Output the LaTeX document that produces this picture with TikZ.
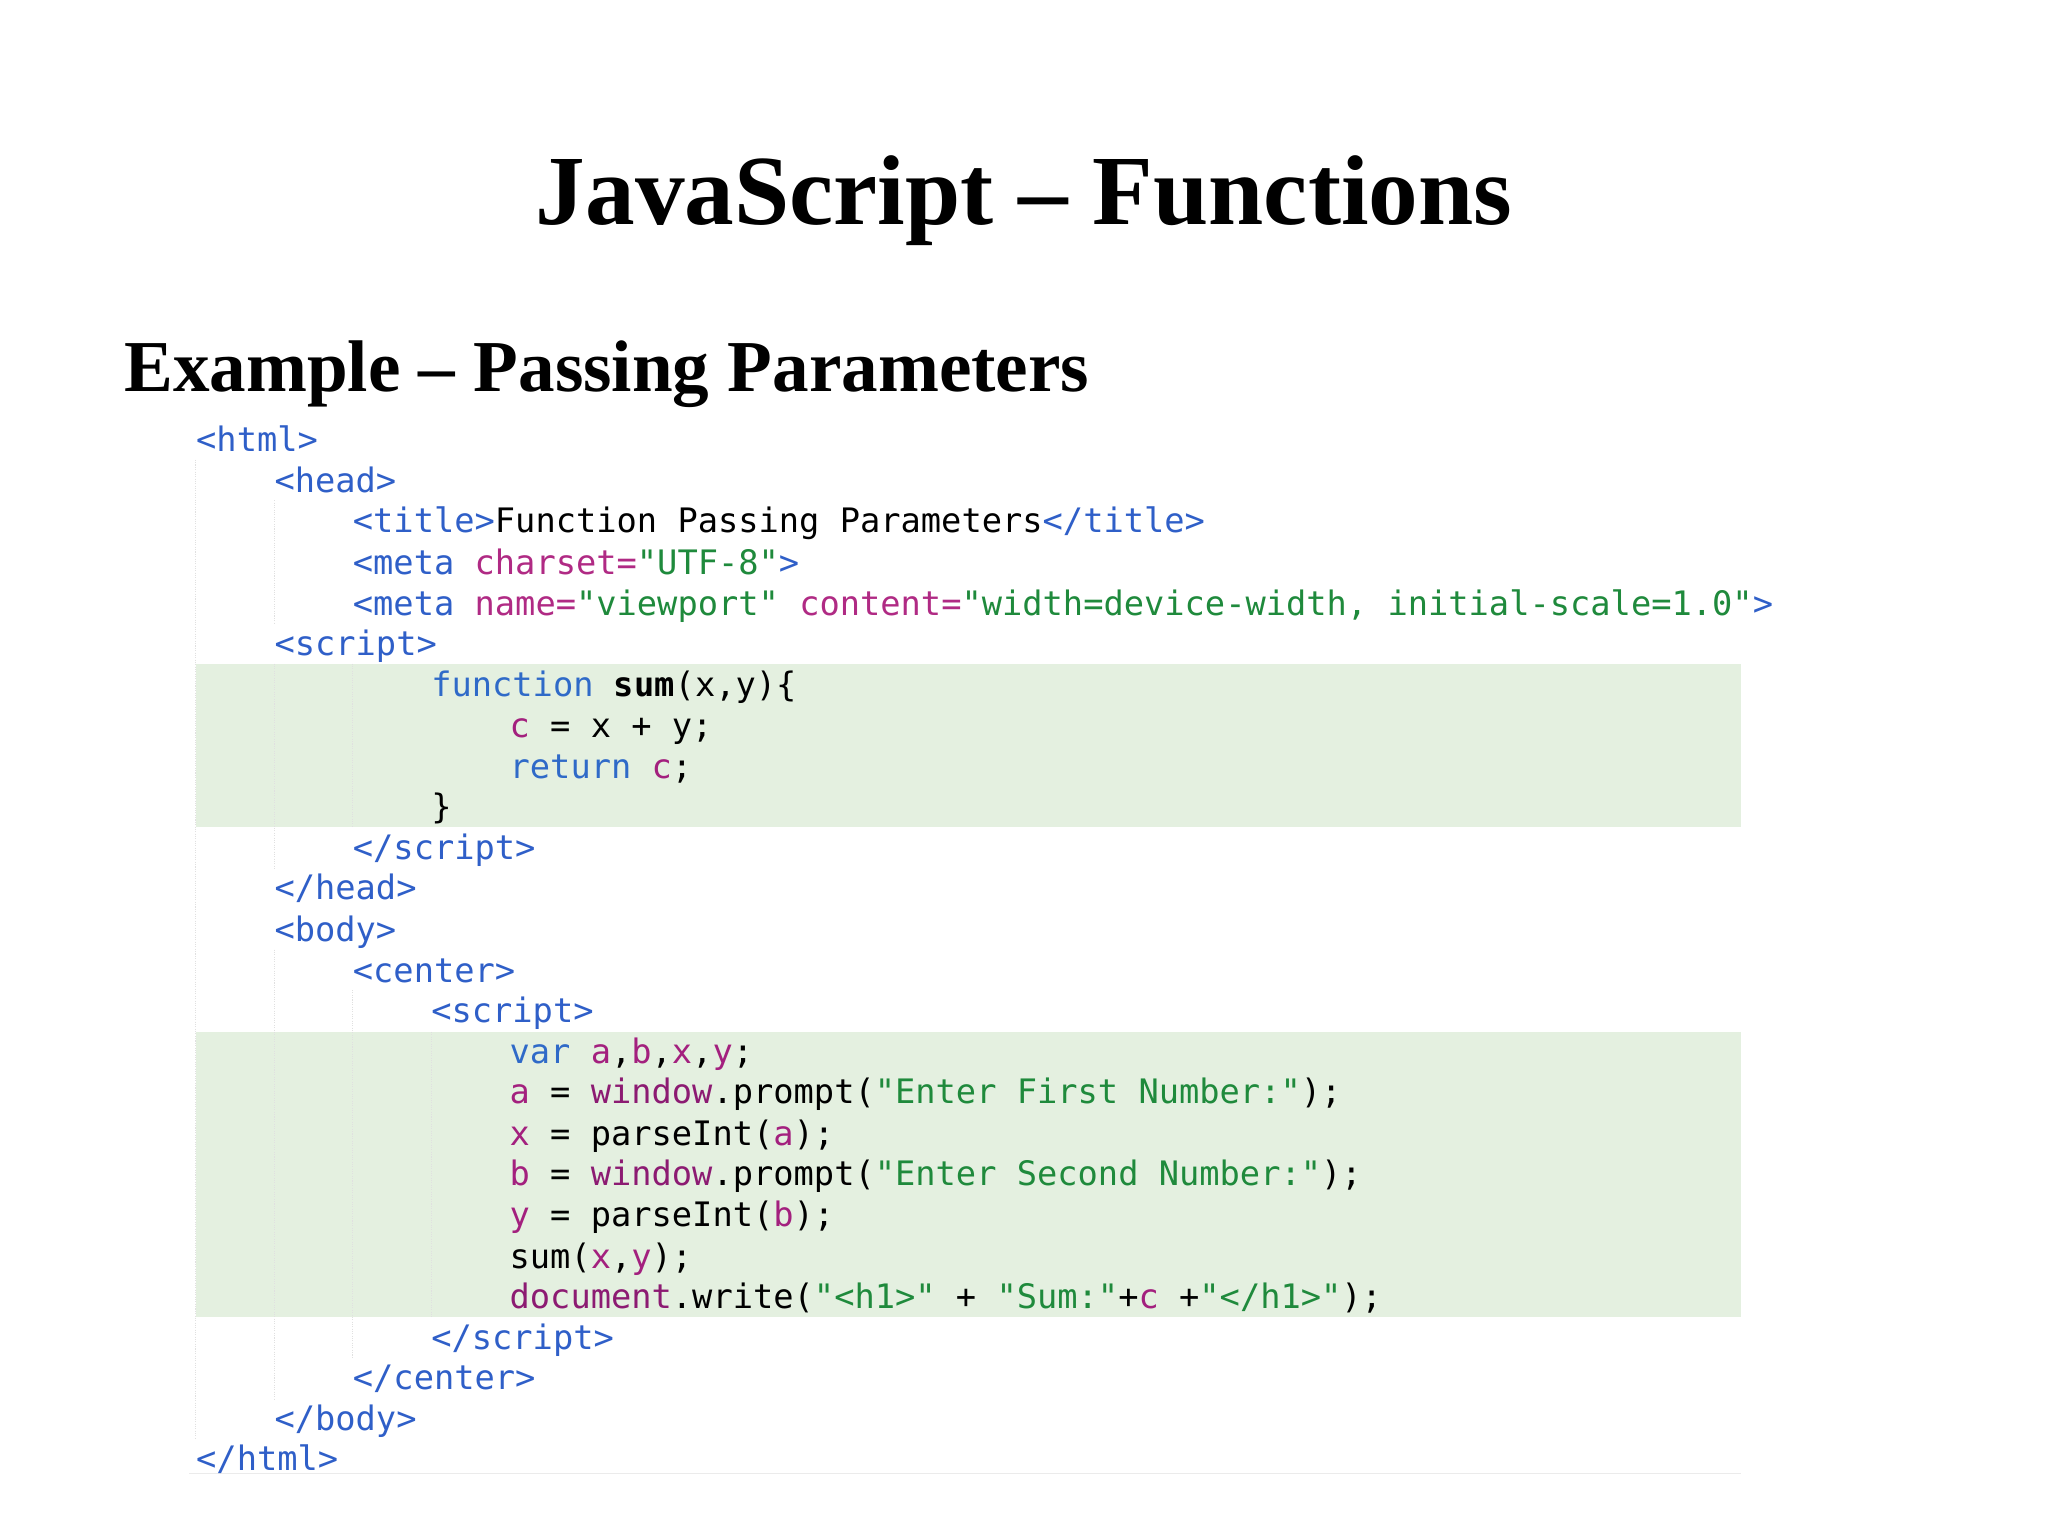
\documentclass[tikz,border=0pt]{standalone}
\usepackage{fontspec}
\setmainfont{Liberation Serif}
\setmonofont{DejaVu Sans Mono}
\definecolor{tagc}{HTML}{2F5FC8}
\definecolor{attc}{HTML}{B02A84}
\definecolor{strc}{HTML}{1F8A3C}
\definecolor{kwc}{HTML}{2F6AC8}
\definecolor{varc}{HTML}{A3207E}
\definecolor{objc}{HTML}{8C1B72}
\definecolor{band}{HTML}{E4F0E0}
\newcommand{\tg}[1]{\textcolor{tagc}{#1}}
\newcommand{\at}[1]{\textcolor{attc}{#1}}
\newcommand{\st}[1]{\textcolor{strc}{#1}}
\newcommand{\kw}[1]{\textcolor{kwc}{#1}}
\newcommand{\vr}[1]{\textcolor{varc}{#1}}
\newcommand{\ob}[1]{\textcolor{objc}{#1}}
\begin{document}
\begin{tikzpicture}[x=1pt,y=-1pt,
  code/.style={anchor=base west,inner sep=0pt,font=\fontsize{25.8}{30}\ttfamily},
  guide/.style={draw=black!12,line width=0.8pt,densely dotted}]
\useasboundingbox[fill=white] (0,0) rectangle (1568,1176);
\fill[band] (150,508) rectangle (1333,633);
\fill[band] (150,790) rectangle (1333,1008);
\draw[black!8,line width=0.8pt] (145,1128) -- (1333,1128);
\draw[guide] (150,352) -- (150,1102);
\draw[guide] (210,383) -- (210,477);
\draw[guide] (210,508) -- (210,665);
\draw[guide] (210,727) -- (210,1071);
\draw[guide] (270,508) -- (270,633);
\draw[guide] (270,758) -- (270,1040);
\draw[guide] (330,790) -- (330,1008);
\node[anchor=base,inner sep=0pt,font=\fontsize{76}{80}\bfseries] (title) at (784,172) {JavaScript – Functions};
\node[anchor=base west,inner sep=0pt,font=\fontsize{56}{60}\bfseries] (sub) at (95,300) {Example – Passing Parameters};
\foreach \ind/\yy/\txt [count=\i] in {
 0/337/{\tg{<html>}},
 1/368/{\tg{<head>}},
 2/399/{\tg{<title>}Function Passing Parameters\tg{</title>}},
 2/431/{\tg{<meta} \at{charset=}\st{"UTF-8"}\tg{>}},
 2/462/{\tg{<meta} \at{name=}\st{"viewport"} \at{content=}\st{"width=device-width, initial-scale=1.0"}\tg{>}},
 1/493/{\tg{<script>}},
 3/524/{\kw{function} \textbf{sum}(x,y)\{},
 4/556/{\vr{c} = x + y;},
 4/587/{\kw{return} \vr{c};},
 3/618/{\}},
 2/649/{\tg{</script>}},
 1/680/{\tg{</head>}},
 1/712/{\tg{<body>}},
 2/743/{\tg{<center>}},
 3/774/{\tg{<script>}},
 4/805/{\kw{var} \vr{a},\vr{b},\vr{x},\vr{y};},
 4/836/{\vr{a} = \ob{window}.prompt(\st{"Enter First Number:"});},
 4/868/{\vr{x} = parseInt(\vr{a});},
 4/899/{\vr{b} = \ob{window}.prompt(\st{"Enter Second Number:"});},
 4/930/{\vr{y} = parseInt(\vr{b});},
 4/962/{sum(\vr{x},\vr{y});},
 4/993/{\ob{document}.write(\st{"<h1>"} + \st{"Sum:"}+\vr{c} +\st{"</h1>"});},
 3/1024/{\tg{</script>}},
 2/1055/{\tg{</center>}},
 1/1086/{\tg{</body>}},
 0/1117/{\tg{</html>}}}
 \node[code] (l\i) at (150+60*\ind,\yy+9) {\txt};
\end{tikzpicture}
\end{document}
